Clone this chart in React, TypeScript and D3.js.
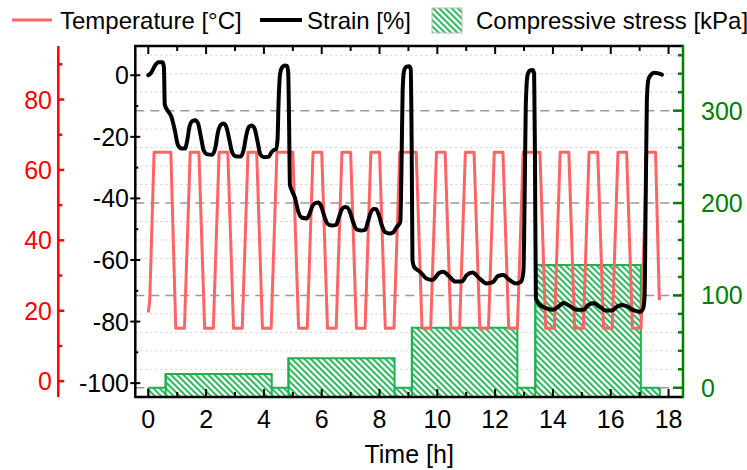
import React from "react";
import * as d3 from "d3";

// Axis tick values
const timeTicks = [0, 2, 4, 6, 8, 10, 12, 14, 16, 18];
const timeMinorTicks = [1, 3, 5, 7, 9, 11, 13, 15, 17];
const strainTicks = [0, -20, -40, -60, -80, -100];
const strainMinorTicks = [-10, -30, -50, -70, -90];
const tempTicks = [0, 20, 40, 60, 80];
const tempMinorTicks = [10, 30, 50, 70, 90];
const stressTicks = [0, 100, 200, 300];
const stressMinorTicks = [20, 40, 60, 80, 120, 140, 160, 180, 220, 240, 260, 280, 320, 340, 360];

// Temperature program [h, °C]
const temperature: [number, number][] = [
  [0.0, 19.5], [0.05, 23], [0.2, 65], [0.78, 65], [0.95, 15], [1.25, 15],
  [1.45, 65], [1.75, 65], [1.95, 15], [2.25, 15], [2.45, 65], [2.75, 65],
  [2.95, 15], [3.25, 15], [3.45, 65], [3.75, 65], [3.95, 15], [4.25, 15],
  [4.45, 65], [5.0, 65], [5.2, 15], [5.5, 15], [5.7, 65], [6.0, 65],
  [6.2, 15], [6.5, 15], [6.7, 65], [7.0, 65], [7.2, 15], [7.5, 15],
  [7.7, 65], [8.0, 65], [8.2, 15], [8.5, 15], [8.7, 65], [9.27, 65],
  [9.47, 15], [9.77, 15], [9.97, 65], [10.27, 65], [10.47, 15], [10.77, 15],
  [10.97, 65], [11.27, 65], [11.47, 15], [11.77, 15], [11.97, 65], [12.27, 65],
  [12.47, 15], [12.77, 15], [12.97, 65], [13.55, 65], [13.75, 15], [14.05, 15],
  [14.25, 65], [14.55, 65], [14.75, 15], [15.05, 15], [15.25, 65], [15.55, 65],
  [15.75, 15], [16.05, 15], [16.25, 65], [16.55, 65], [16.75, 15], [17.05, 15],
  [17.25, 65], [17.55, 65], [17.68, 23],
];

// Measured strain [h, %]
const strain: [number, number][] = [
  [0.0, 0.0], [0.1, 0.8], [0.22, 3.0], [0.35, 4.2], [0.5, 4.2], [0.54, 2.5],
  [0.57, -9.5], [0.65, -11.2], [0.8, -13.5], [0.92, -18.0], [1.02, -22.5],
  [1.15, -23.8], [1.27, -23.8], [1.35, -21.0], [1.43, -16.5], [1.52, -14.9],
  [1.62, -14.6], [1.72, -15.6], [1.82, -20.0], [1.92, -24.5], [2.05, -25.7],
  [2.22, -25.8], [2.32, -23.5], [2.41, -18.5], [2.5, -16.2], [2.6, -15.7],
  [2.7, -16.8], [2.8, -20.8], [2.9, -25.0], [3.02, -26.3], [3.2, -26.4],
  [3.3, -24.2], [3.39, -19.5], [3.48, -16.8], [3.58, -16.3], [3.68, -17.4],
  [3.78, -21.5], [3.88, -25.8], [4.0, -26.6], [4.16, -26.5], [4.26, -25.0],
  [4.34, -24.3], [4.42, -24.0], [4.47, -21.0], [4.51, -8.0], [4.56, 0.5],
  [4.63, 2.6], [4.72, 3.2], [4.8, 3.0], [4.84, 1.0], [4.87, -15.0],
  [4.9, -35.5], [4.97, -37.5], [5.08, -40.0], [5.18, -44.0], [5.3, -46.2],
  [5.48, -46.5], [5.58, -45.0], [5.68, -42.5], [5.78, -41.5], [5.88, -41.3],
  [5.98, -42.5], [6.08, -45.5], [6.2, -48.2], [6.35, -48.8], [6.5, -48.6],
  [6.6, -46.0], [6.7, -43.5], [6.8, -42.8], [6.88, -42.9], [6.98, -44.5],
  [7.08, -47.5], [7.2, -50.0], [7.35, -50.4], [7.5, -50.2], [7.6, -47.5],
  [7.7, -44.5], [7.8, -43.4], [7.88, -43.5], [7.98, -45.5], [8.08, -48.8],
  [8.2, -51.0], [8.35, -51.4], [8.48, -51.0], [8.58, -49.5], [8.66, -48.6],
  [8.72, -47.5], [8.76, -30], [8.8, -5], [8.85, 1.5], [8.92, 2.7],
  [9.02, 2.9], [9.08, 2.0], [9.11, -20], [9.14, -60.0], [9.2, -62.3],
  [9.4, -63.8], [9.62, -66.0], [9.84, -66.5], [9.96, -65.3], [10.06, -64.2],
  [10.2, -63.8], [10.4, -65.2], [10.62, -67.0], [10.85, -67.0], [11.02, -64.9],
  [11.22, -64.1], [11.46, -66.0], [11.7, -67.6], [11.92, -67.2], [12.1, -65.2],
  [12.28, -64.9], [12.5, -66.5], [12.72, -67.6], [12.9, -67.0], [12.98, -63.5],
  [13.02, -40], [13.06, -10], [13.12, 0.0], [13.2, 1.5], [13.3, 1.7],
  [13.35, 0.5], [13.38, -30], [13.41, -72.5], [13.55, -74.6], [13.78, -75.7],
  [14.0, -76.2], [14.18, -75.2], [14.36, -74.0], [14.6, -75.0], [14.82, -76.2],
  [15.05, -76.2], [15.23, -74.6], [15.4, -74.0], [15.62, -75.2], [15.82, -76.4],
  [16.04, -76.4], [16.21, -75.2], [16.38, -74.6], [16.6, -75.2], [16.8, -76.4],
  [17.02, -76.8], [17.12, -75.8], [17.17, -72], [17.21, -40], [17.25, -8],
  [17.3, -1.5], [17.38, 0.0], [17.5, 0.8], [17.62, 0.7], [17.77, 0.2],
];

// Compressive stress steps: value holds from stressTimes[i] to stressTimes[i+1]
const stressTimes = [0, 0.6, 4.27, 4.85, 8.52, 9.12, 12.77, 13.39, 17.04, 17.7];
const stressValues = [0, 15, 0, 32, 0, 65, 0, 133, 0];

const W = 747;
const H = 470;
const L = 135.3;
const R = 683;
const T = 46;
const B = 397;

const FONT = "'Liberation Sans', Arial, sans-serif";
const RED_AXIS = "#ff0000";
const TEMP_LINE = "#ff6464";
const GREEN_AXIS = "#008000";
const HATCH = "#1db150";

export default function App() {
  const x = d3.scaleLinear().domain([-0.45, 18.5]).range([L, R]);
  const yStrain = d3.scaleLinear().domain([-104.5, 9.5]).range([B, T]);
  const yTemp = d3.scaleLinear().domain([-4.5, 95.2]).range([B, T]);
  const yStress = d3.scaleLinear().domain([-10, 370]).range([B, T]);

  const tempLine = d3
    .line<[number, number]>()
    .x((d) => x(d[0]))
    .y((d) => yTemp(d[1]));

  const strainLine = d3
    .line<[number, number]>()
    .x((d) => x(d[0]))
    .y((d) => yStrain(d[1]))
    .curve(d3.curveMonotoneX);

  const stressPts: [number, number][] = stressValues.map((v, i) => [stressTimes[i], v]);
  stressPts.push([stressTimes[stressTimes.length - 1], stressValues[stressValues.length - 1]]);
  const stressArea = d3
    .area<[number, number]>()
    .x((d) => x(d[0]))
    .y0(B)
    .y1((d) => yStress(d[1]))
    .curve(d3.curveStepAfter);
  const stressOutline = d3
    .line<[number, number]>()
    .x((d) => x(d[0]))
    .y((d) => yStress(d[1]))
    .curve(d3.curveStepAfter);

  const tempAxisX = 58.3;

  return (
    <div style={{ position: "absolute", left: 0, top: 0 }}>
      <svg width={W} height={H} style={{ display: "block", background: "#fff" }} fontFamily={FONT}>
        <defs>
          <pattern id="hatch" width="4.4" height="4.4" patternUnits="userSpaceOnUse" patternTransform="rotate(-45)">
            <rect width="4.4" height="4.4" fill="#fff" />
            <line x1="1.1" y1="0" x2="1.1" y2="4.4" stroke={HATCH} strokeWidth="1.9" />
          </pattern>
          <clipPath id="plotClip">
            <rect x={L} y={T} width={R - L} height={B - T} />
          </clipPath>
        </defs>

        {/* grid from the stress axis */}
        {stressMinorTicks.map((v) => (
          <line key={"gm" + v} x1={L} x2={R} y1={yStress(v)} y2={yStress(v)} stroke="#cfcfcf" strokeWidth={1} strokeDasharray="2,3" />
        ))}
        {stressTicks.map((v) => (
          <line key={"gM" + v} x1={L} x2={R} y1={yStress(v)} y2={yStress(v)} stroke="#999" strokeWidth={1.5} strokeDasharray="9,6" />
        ))}

        <g clipPath="url(#plotClip)">
          <path d={stressArea(stressPts) || ""} fill="url(#hatch)" stroke="none" />
          <path d={stressOutline(stressPts) || ""} fill="none" stroke={HATCH} strokeWidth={2} />
          {stressValues.map((v, i) => {
            const xs = x(stressTimes[i]);
            return <line key={"sv" + i} x1={xs} x2={xs} y1={B} y2={yStress(v)} stroke={HATCH} strokeWidth={2} />;
          })}
          <line x1={x(stressTimes[stressTimes.length - 1])} x2={x(stressTimes[stressTimes.length - 1])} y1={B} y2={yStress(0)} stroke={HATCH} strokeWidth={2} />
          <path d={tempLine(temperature) || ""} fill="none" stroke={TEMP_LINE} strokeWidth={3} strokeLinejoin="round" />
          <path d={strainLine(strain) || ""} fill="none" stroke="#000" strokeWidth={4} strokeLinejoin="round" strokeLinecap="round" />
        </g>

        {/* frame */}
        <line x1={L} x2={L} y1={T} y2={B} stroke="#000" strokeWidth={2.5} />
        <line x1={L - 1.2} x2={R} y1={T} y2={T} stroke="#000" strokeWidth={2.5} />
        <line x1={L - 1.2} x2={R} y1={B} y2={B} stroke="#000" strokeWidth={2.5} />

        {/* time axis */}
        {timeTicks.map((t) => (
          <g key={"xt" + t}>
            <line x1={x(t)} x2={x(t)} y1={B} y2={B - 8} stroke="#000" strokeWidth={2} />
            <line x1={x(t)} x2={x(t)} y1={T} y2={T + 8} stroke="#000" strokeWidth={2} />
            <text x={x(t)} y={428} fontSize={25} textAnchor="middle" fill="#000">{t}</text>
          </g>
        ))}
        {timeMinorTicks.map((t) => (
          <g key={"xm" + t}>
            <line x1={x(t)} x2={x(t)} y1={B} y2={B - 5} stroke="#000" strokeWidth={2} />
            <line x1={x(t)} x2={x(t)} y1={T} y2={T + 5} stroke="#000" strokeWidth={2} />
          </g>
        ))}
        <text x={(L + R) / 2} y={463} fontSize={25} textAnchor="middle" fill="#000">Time [h]</text>

        {/* strain axis */}
        {strainTicks.map((v) => (
          <g key={"st" + v}>
            <line x1={L - 5} x2={L + 5} y1={yStrain(v)} y2={yStrain(v)} stroke="#000" strokeWidth={2} />
            <text x={129} y={yStrain(v)} dy="0.36em" fontSize={25} textAnchor="end" fill="#000">{v}</text>
          </g>
        ))}
        {strainMinorTicks.map((v) => (
          <line key={"sm" + v} x1={L} x2={L + 3} y1={yStrain(v)} y2={yStrain(v)} stroke="#000" strokeWidth={2} />
        ))}

        {/* temperature axis */}
        <line x1={tempAxisX} x2={tempAxisX} y1={T} y2={B} stroke={RED_AXIS} strokeWidth={2.5} />
        {tempTicks.map((v) => (
          <g key={"tt" + v}>
            <line x1={tempAxisX} x2={tempAxisX + 6} y1={yTemp(v)} y2={yTemp(v)} stroke={RED_AXIS} strokeWidth={2.5} />
            <text x={52} y={yTemp(v)} dy="0.36em" fontSize={25} textAnchor="end" fill={RED_AXIS}>{v}</text>
          </g>
        ))}
        {tempMinorTicks.map((v) => (
          <line key={"tm" + v} x1={tempAxisX} x2={tempAxisX + 4} y1={yTemp(v)} y2={yTemp(v)} stroke={RED_AXIS} strokeWidth={2.5} />
        ))}

        {/* stress axis */}
        <line x1={R} x2={R} y1={T - 1.2} y2={B + 1.2} stroke={GREEN_AXIS} strokeWidth={2.5} />
        {stressTicks.map((v) => (
          <g key={"pt" + v}>
            <line x1={R - 10} x2={R} y1={yStress(v)} y2={yStress(v)} stroke={GREEN_AXIS} strokeWidth={2.5} />
            <text x={701} y={yStress(v)} dy="0.36em" fontSize={25} textAnchor="start" fill={GREEN_AXIS}>{v}</text>
          </g>
        ))}
        {stressMinorTicks.map((v) => (
          <line key={"pm" + v} x1={R - 5} x2={R} y1={yStress(v)} y2={yStress(v)} stroke={GREEN_AXIS} strokeWidth={2.5} />
        ))}

        {/* legend */}
        <g fontSize={24}>
          <line x1={12} x2={52} y1={20} y2={20} stroke={TEMP_LINE} strokeWidth={3} />
          <text x={60} y={20} dy="0.36em" fill="#000">Temperature [°C]</text>
          <line x1={260} x2={302} y1={20} y2={20} stroke="#000" strokeWidth={4} />
          <text x={307} y={20} dy="0.36em" fill="#000">Strain [%]</text>
          <rect x={432} y={8} width={30} height={25} fill="url(#hatch)" stroke="#bbb" strokeWidth={1} />
          <text x={476} y={20} dy="0.36em" fill="#000">Compressive stress [kPa]</text>
        </g>
      </svg>
    </div>
  );
}
